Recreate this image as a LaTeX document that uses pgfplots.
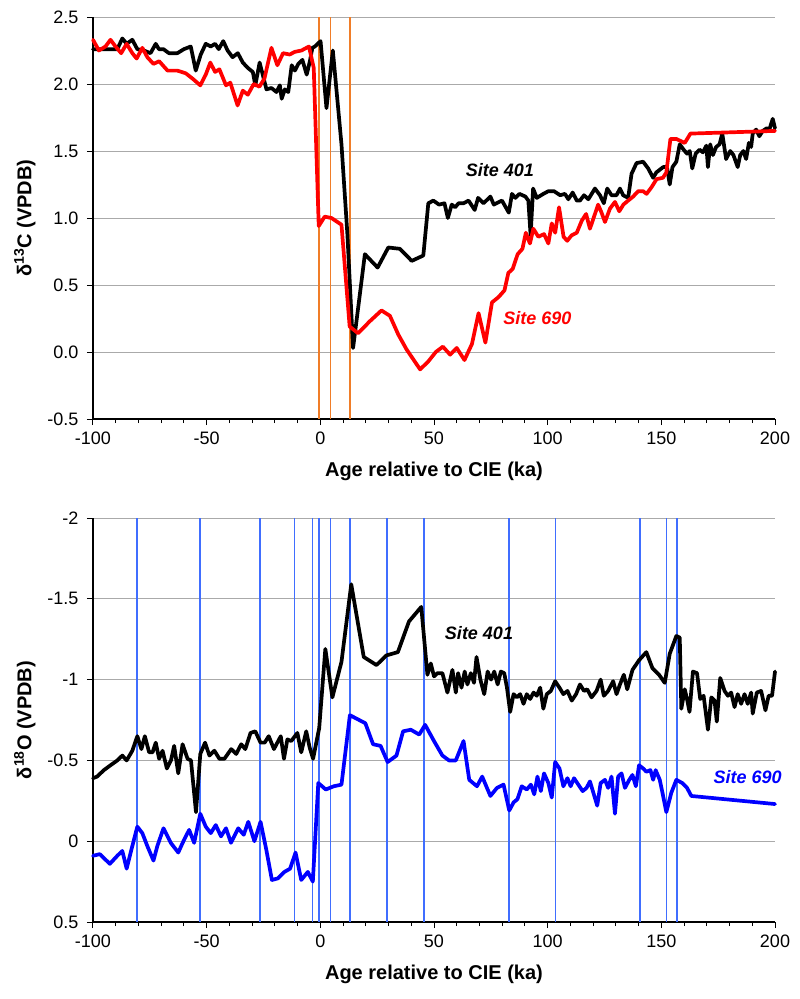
\documentclass[border=0pt]{standalone}
\usepackage{fontspec}
\setmainfont{Liberation Sans}
\usepackage{pgfplots}
\pgfplotsset{compat=1.18}
\definecolor{vorange}{RGB}{240,125,40}
\definecolor{vblue}{RGB}{64,110,255}
\definecolor{gridgray}{RGB}{170,170,170}
\definecolor{sred}{RGB}{255,0,0}
\definecolor{sblue}{RGB}{0,0,255}
\pgfplotsset{
  panel/.style={
    width=682pt, scale only axis,
    xmin=-100, xmax=200,
    axis x line*=bottom, axis y line*=left,
    axis line style={-, black, line width=1.2pt},
    xtick={-100,-50,0,50,100,150,200}, minor x tick num=4,
    tick align=outside,
    major tick length=6pt, minor tick length=4pt,
    tick style={black, line width=1pt},
    ymajorgrids, grid style={gridgray, line width=1pt},
    /pgf/number format/assume math mode=true,
    tick label style={font=\fontsize{18}{21}\selectfont},
    xticklabel style={yshift=-3pt},
    yticklabel style={xshift=-5pt},
    label style={font=\fontsize{20}{23}\selectfont\bfseries},
    xlabel={Age relative to CIE (ka)},
    xlabel style={at={(axis description cs:0.5,0)}, anchor=center, yshift=-52pt},
    ylabel style={at={(axis description cs:-0.1,0.5)}, anchor=center},
    clip=false,
  },
  dline/.style={line width=3.7pt, line join=round, line cap=round},
  vline/.style={line width=1.7pt, forget plot},
}
\begin{document}
\begin{tikzpicture}
\useasboundingbox (-93pt,17pt) rectangle (707pt,-982pt);
% ---------------- top panel ----------------
\begin{axis}[panel, at={(0,0)}, anchor=north west, height=402pt,
  ymin=-0.5, ymax=2.5, ytick={-0.5,0,0.5,1,1.5,2,2.5},
  yticklabel style={/pgf/number format/.cd, fixed, fixed zerofill, precision=1},
  ylabel={δ\textsuperscript{13}C (VPDB)}]
\addplot[vline, vorange] coordinates {(-0.6,-0.5) (-0.6,2.5)};
\addplot[vline, vorange] coordinates {(4.5,-0.5) (4.5,2.5)};
\addplot[vline, vorange] coordinates {(13.1,-0.5) (13.1,2.5)};
\addplot[dline, black] coordinates {
(-100,2.26) (-89.3,2.26) (-87.1,2.34) (-85.2,2.30) (-82.7,2.33) (-80.5,2.26) (-77.6,2.25) (-74.7,2.23)
(-72.4,2.30) (-71.0,2.26) (-69.0,2.26) (-66.6,2.23) (-62.9,2.23) (-60.0,2.26) (-57.0,2.28) (-54.8,2.10)
(-52.6,2.22) (-50.4,2.30) (-48.2,2.28) (-46.3,2.30) (-44.7,2.26) (-42.7,2.32) (-40.8,2.25) (-38.6,2.20)
(-36.3,2.23) (-34.1,2.16) (-31.9,2.12) (-29.7,2.09) (-28.6,1.99) (-26.7,2.16) (-25.2,2.06) (-23.7,1.96)
(-21.5,1.97) (-19.3,1.94) (-17.8,1.99) (-17.0,1.89) (-15.6,1.96) (-14.1,1.94) (-12.6,2.14) (-11.2,2.10)
(-9.7,2.15) (-7.9,2.18) (-6.0,2.07) (-4.6,2.17) (-3.5,2.27) (-2.4,2.28) (0.1,2.32) (2.7,1.82)
(5.5,2.25) (9.3,1.55) (11.9,0.88) (14.4,0.03) (15.9,0.23) (19.6,0.73) (25.2,0.63) (29.9,0.78)
(35.0,0.77) (40.2,0.68) (45.3,0.72) (47.5,1.11) (49.7,1.13) (52.2,1.10) (54.6,1.11) (56.1,1.00)
(57.8,1.10) (59.3,1.08) (60.8,1.11) (63.0,1.11) (65.2,1.13) (67.9,1.06) (69.4,1.15) (71.8,1.11)
(74.8,1.16) (76.3,1.10) (79.9,1.13) (82.9,1.04) (84.3,1.18) (85.8,1.15) (87.6,1.18) (90.2,1.16)
(91.5,1.13) (92.5,0.87) (93.6,1.22) (95.2,1.15) (98.1,1.18) (100.3,1.20) (102.8,1.20) (105.5,1.17)
(107.6,1.18) (109.1,1.14) (111.0,1.19) (112.8,1.13) (114.2,1.13) (116.0,1.17) (117.9,1.14) (120.8,1.22)
(123.0,1.17) (124.7,1.11) (126.2,1.22) (128.1,1.17) (130.3,1.17) (131.8,1.22) (133.2,1.17) (135.4,1.15)
(136.9,1.33) (139.1,1.41) (142.0,1.42) (144.2,1.37) (146.4,1.30) (147.8,1.34) (150.8,1.38) (152.5,1.38)
(153.7,1.25) (154.9,1.38) (156.6,1.42) (158.1,1.55) (159.8,1.51) (161.3,1.48) (162.5,1.50) (163.6,1.37)
(165.1,1.48) (166.8,1.51) (168.3,1.49) (169.8,1.54) (170.5,1.38) (171.5,1.55) (172.7,1.47) (174.1,1.53)
(175.6,1.55) (176.8,1.63) (178.5,1.44) (180.3,1.50) (181.7,1.47) (183.6,1.38) (184.7,1.47) (186.1,1.50)
(187.3,1.44) (188.5,1.56) (189.5,1.53) (190.2,1.63) (191.7,1.66) (193.1,1.61) (194.6,1.65) (196.4,1.67)
(197.5,1.66) (199.0,1.74) (200,1.67)
};
\addplot[dline, sred] coordinates {
(-100,2.33) (-97.4,2.25) (-94.5,2.28) (-92.3,2.33) (-90.1,2.28) (-87.6,2.23) (-85.2,2.30) (-82.7,2.23)
(-80.8,2.19) (-78.3,2.27) (-76.1,2.20) (-73.4,2.15) (-70.9,2.17) (-67.2,2.10) (-62.9,2.10) (-59.2,2.08)
(-56.2,2.04) (-52.8,1.99) (-50.4,2.07) (-48.4,2.16) (-46.3,2.09) (-44.4,2.11) (-41.5,1.99) (-39.6,2.01)
(-36.4,1.84) (-34.1,1.95) (-31.9,1.92) (-29.3,2.00) (-26.8,1.98) (-24.6,2.04) (-21.5,2.27) (-18.9,2.14)
(-16.4,2.23) (-13.5,2.22) (-11.2,2.24) (-8.3,2.25) (-5.0,2.28) (-2.9,2.12) (-0.7,0.94) (1.9,1.01)
(4.9,1.00) (9.3,0.95) (12.9,0.19) (16.6,0.14) (21.8,0.23) (26.9,0.31) (30.6,0.27) (34.3,0.13)
(37.9,0.02) (43.9,-0.13) (47.5,-0.07) (50.8,0.00) (53.9,0.04) (57.1,-0.02) (60.0,0.03) (63.4,-0.06)
(66.7,0.06) (69.6,0.29) (72.6,0.07) (75.5,0.37) (78.4,0.41) (81.0,0.46) (82.7,0.59) (84.6,0.62)
(86.8,0.73) (88.9,0.77) (90.4,0.89) (92.2,0.81) (93.7,0.92) (95.9,0.86) (98.4,0.88) (100.3,0.81)
(101.8,0.96) (103.3,0.89) (105.0,1.08) (107.0,0.86) (108.6,0.83) (110.5,0.87) (112.8,0.89) (115.0,0.98)
(116.9,1.03) (118.6,0.92) (120.8,1.03) (122.2,1.10) (123.7,1.04) (125.2,0.97) (127.4,1.07) (129.6,1.12)
(131.5,1.05) (133.3,1.10) (135.4,1.13) (137.6,1.16) (139.8,1.20) (142.0,1.20) (143.5,1.18) (145.7,1.23)
(147.9,1.29) (150.7,1.30) (152.2,1.34) (154.0,1.59) (156.6,1.59) (160.3,1.56) (162.8,1.63) (200,1.65)
};
\node[font=\fontsize{18}{21}\selectfont\bfseries\itshape, text=black] at (axis cs:79,1.36) {Site 401};
\node[font=\fontsize{18}{21}\selectfont\bfseries\itshape, text=sred] at (axis cs:95.5,0.25) {Site 690};
\end{axis}
% ---------------- bottom panel ----------------
\begin{axis}[panel, at={(0,-501pt)}, anchor=north west, height=404pt,
  ymin=-2, ymax=0.5, y dir=reverse, ytick={-2,-1.5,-1,-0.5,0,0.5},
  ylabel={δ\textsuperscript{18}O (VPDB)}]
\addplot[vline, vblue] coordinates {(-80.5,-2) (-80.5,0.5)};
\addplot[vline, vblue] coordinates {(-53.0,-2) (-53.0,0.5)};
\addplot[vline, vblue] coordinates {(-26.6,-2) (-26.6,0.5)};
\addplot[vline, vblue] coordinates {(-11.3,-2) (-11.3,0.5)};
\addplot[vline, vblue] coordinates {(-3.5,-2) (-3.5,0.5)};
\addplot[vline, vblue] coordinates {(-0.6,-2) (-0.6,0.5)};
\addplot[vline, vblue] coordinates {(4.5,-2) (4.5,0.5)};
\addplot[vline, vblue] coordinates {(13.1,-2) (13.1,0.5)};
\addplot[vline, vblue] coordinates {(29.4,-2) (29.4,0.5)};
\addplot[vline, vblue] coordinates {(45.7,-2) (45.7,0.5)};
\addplot[vline, vblue] coordinates {(83.1,-2) (83.1,0.5)};
\addplot[vline, vblue] coordinates {(103.5,-2) (103.5,0.5)};
\addplot[vline, vblue] coordinates {(140.7,-2) (140.7,0.5)};
\addplot[vline, vblue] coordinates {(152.3,-2) (152.3,0.5)};
\addplot[vline, vblue] coordinates {(156.8,-2) (156.8,0.5)};
\addplot[dline, black] coordinates {
(-100,-0.39) (-98.2,-0.40) (-95.2,-0.44) (-92.3,-0.47) (-89.3,-0.50) (-87.1,-0.53) (-85.2,-0.50) (-82.7,-0.56)
(-80.5,-0.65) (-78.7,-0.57) (-77.2,-0.65) (-75.3,-0.55) (-73.8,-0.55) (-72.4,-0.61) (-70.9,-0.51) (-69.4,-0.56)
(-67.5,-0.45) (-65.7,-0.50) (-64.3,-0.59) (-62.5,-0.42) (-60.6,-0.60) (-58.4,-0.51) (-56.9,-0.50) (-54.7,-0.18)
(-52.8,-0.54) (-50.7,-0.61) (-48.8,-0.53) (-46.6,-0.56) (-44.4,-0.51) (-42.2,-0.51) (-39.2,-0.57) (-37.0,-0.54)
(-34.8,-0.60) (-33.0,-0.57) (-30.7,-0.67) (-28.6,-0.68) (-26.3,-0.61) (-24.5,-0.61) (-22.7,-0.65) (-20.4,-0.57)
(-17.4,-0.65) (-16.0,-0.51) (-14.5,-0.63) (-12.8,-0.62) (-10.1,-0.67) (-8.4,-0.55) (-6.2,-0.68) (-4.7,-0.58)
(-3.2,-0.51) (-0.5,-0.70) (2.2,-1.19) (5.3,-0.89) (9.3,-1.11) (13.6,-1.59) (19.1,-1.14) (24.7,-1.09)
(29.1,-1.15) (34.1,-1.17) (39.0,-1.36) (44.4,-1.45) (47.1,-1.03) (48.6,-1.10) (50.0,-1.02) (51.5,-1.04)
(53.7,-1.04) (55.9,-0.92) (58.1,-1.06) (59.6,-0.92) (60.6,-1.04) (62.1,-0.95) (63.5,-1.05) (64.7,-0.97)
(66.2,-1.04) (67.6,-0.98) (68.7,-1.14) (70.4,-1.00) (72.1,-0.91) (73.6,-1.05) (75.1,-1.00) (76.5,-1.05)
(78.0,-0.97) (79.4,-1.05) (80.9,-1.04) (82.1,-0.95) (83.5,-0.80) (85.0,-0.91) (86.5,-0.89) (87.9,-0.91)
(89.4,-0.85) (90.8,-0.91) (92.3,-0.88) (93.8,-0.92) (95.2,-0.90) (96.7,-0.95) (98.1,-0.82) (99.6,-0.91)
(101.4,-0.93) (103.3,-0.99) (105.2,-0.95) (106.9,-0.91) (108.7,-0.93) (110.6,-0.87) (112.5,-0.91) (114.2,-0.97)
(116.0,-0.93) (117.4,-0.94) (119.3,-0.89) (121.5,-0.93) (123.3,-1.00) (124.7,-0.90) (126.6,-0.93) (128.8,-0.99)
(130.3,-0.91) (131.8,-0.97) (133.5,-1.03) (135.0,-0.94) (137.3,-1.06) (140.2,-1.12) (143.4,-1.17) (146.1,-1.07)
(149.0,-1.03) (151.5,-0.98) (153.7,-1.16) (156.6,-1.27) (158.1,-1.26) (158.8,-0.82) (160.3,-0.94) (161.3,-0.88)
(162.4,-0.80) (163.9,-1.05) (165.7,-1.04) (167.1,-0.88) (168.6,-0.90) (170.5,-0.69) (172.0,-0.89) (173.4,-0.87)
(174.4,-0.74) (175.9,-1.01) (177.8,-0.93) (179.3,-0.90) (180.7,-0.92) (182.2,-0.83) (183.6,-0.91) (185.1,-0.85)
(186.6,-0.91) (188.0,-0.85) (189.5,-0.92) (190.2,-0.79) (192.0,-0.92) (193.9,-0.93) (195.8,-0.81) (197.2,-0.90)
(198.7,-0.90) (200,-1.05)
};
\addplot[dline, sblue] coordinates {
(-100,0.09) (-97.0,0.08) (-92.6,0.14) (-89.3,0.09) (-87.1,0.06) (-85.2,0.17) (-82.7,0.03) (-80.5,-0.09)
(-78.3,-0.05) (-76.1,0.03) (-73.4,0.12) (-71.7,0.03) (-69.0,-0.08) (-65.8,0.01) (-62.5,0.07) (-59.9,-0.01)
(-57.7,-0.07) (-55.5,0.01) (-52.8,-0.17) (-50.4,-0.09) (-48.2,-0.05) (-46.0,-0.10) (-43.7,-0.03) (-41.5,-0.08)
(-39.3,0.01) (-36.1,-0.08) (-33.7,-0.04) (-31.7,-0.12) (-29.0,0.00) (-26.3,-0.12) (-23.8,0.05) (-21.3,0.24)
(-18.7,0.23) (-15.8,0.19) (-13.3,0.17) (-10.9,0.07) (-8.4,0.24) (-5.5,0.19) (-3.3,0.25) (-0.9,-0.36)
(2.4,-0.32) (5.9,-0.34) (9.3,-0.35) (13.0,-0.78) (19.8,-0.73) (23.2,-0.60) (26.5,-0.59) (29.6,-0.49)
(33.5,-0.53) (36.4,-0.68) (39.8,-0.69) (43.5,-0.66) (46.1,-0.72) (50.0,-0.62) (53.7,-0.53) (56.6,-0.50)
(59.6,-0.50) (63.0,-0.62) (65.5,-0.38) (68.9,-0.34) (71.2,-0.40) (74.8,-0.28) (77.7,-0.33) (80.6,-0.35)
(83.1,-0.19) (85.0,-0.24) (86.7,-0.26) (88.6,-0.34) (90.8,-0.32) (92.6,-0.35) (94.1,-0.29) (95.5,-0.40)
(97.0,-0.31) (98.4,-0.42) (100.3,-0.36) (101.8,-0.27) (103.3,-0.49) (105.2,-0.45) (106.9,-0.34) (108.7,-0.39)
(110.1,-0.34) (111.6,-0.39) (113.5,-0.35) (115.4,-0.31) (117.1,-0.33) (118.6,-0.37) (120.1,-0.30) (121.8,-0.22)
(123.3,-0.36) (125.2,-0.38) (126.6,-0.33) (128.1,-0.40) (129.6,-0.17) (131.0,-0.40) (132.5,-0.42) (134.0,-0.33)
(135.9,-0.38) (137.3,-0.41) (138.8,-0.34) (140.2,-0.47) (142.0,-0.45) (143.4,-0.43) (145.2,-0.44) (146.4,-0.38)
(147.5,-0.44) (149.3,-0.38) (150.5,-0.30) (152.2,-0.18) (154.4,-0.30) (156.6,-0.38) (159.2,-0.36) (161.3,-0.33)
(163.2,-0.28) (200,-0.23)
};
\node[font=\fontsize{18}{21}\selectfont\bfseries\itshape, text=black] at (axis cs:69.8,-1.29) {Site 401};
\node[font=\fontsize{18}{21}\selectfont\bfseries\itshape, text=sblue] at (axis cs:188,-0.40) {Site 690};
\end{axis}
\end{tikzpicture}
\end{document}
